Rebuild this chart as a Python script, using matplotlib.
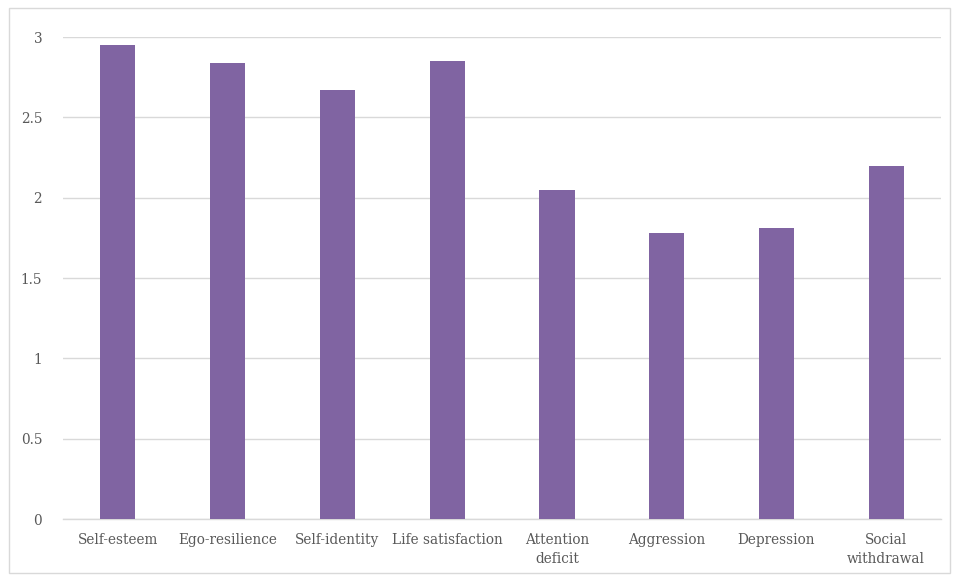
import matplotlib.pyplot as plt
from matplotlib.patches import Rectangle

# data
categories = ['Self-esteem', 'Ego-resilience', 'Self-identity', 'Life satisfaction',
              'Attention\ndeficit', 'Aggression', 'Depression', 'Social\nwithdrawal']
values = [2.95, 2.84, 2.67, 2.85, 2.05, 1.78, 1.81, 2.20]
yticks = [0, 0.5, 1, 1.5, 2, 2.5, 3]
ytick_labels = ['0', '0.5', '1', '1.5', '2', '2.5', '3']

plt.rcParams['font.family'] = ['DejaVu Serif']
text_color = '#595959'
grid_color = '#D9D9D9'

fig = plt.figure(figsize=(9.58, 5.81), dpi=100)
ax = fig.add_axes([0.0658, 0.1067, 0.9166, 0.8296])

x = range(len(categories))
ax.bar(x, values, width=0.32, color='#8064A2', zorder=3)

ax.set_xlim(-0.5, len(categories) - 0.5)
ax.set_ylim(0, 3)
ax.set_yticks(yticks)
ax.set_yticklabels(ytick_labels)
ax.set_xticks(list(x))
ax.set_xticklabels(categories, linespacing=1.5)

ax.grid(axis='y', color=grid_color, linewidth=1.0, zorder=0)
for s in ['top', 'right', 'left']:
    ax.spines[s].set_visible(False)
ax.spines['bottom'].set_color(grid_color)
ax.spines['bottom'].set_linewidth(1.0)

ax.tick_params(axis='both', length=0, colors=text_color, labelsize=9.8)
ax.tick_params(axis='y', pad=15)
ax.tick_params(axis='x', pad=10)

# chart border
fig.patches.append(Rectangle((9 / 958, 8 / 581), 941 / 958, 565 / 581,
                             transform=fig.transFigure, fill=False,
                             edgecolor=grid_color, linewidth=1.0))

plt.savefig('out.png', dpi=100)
